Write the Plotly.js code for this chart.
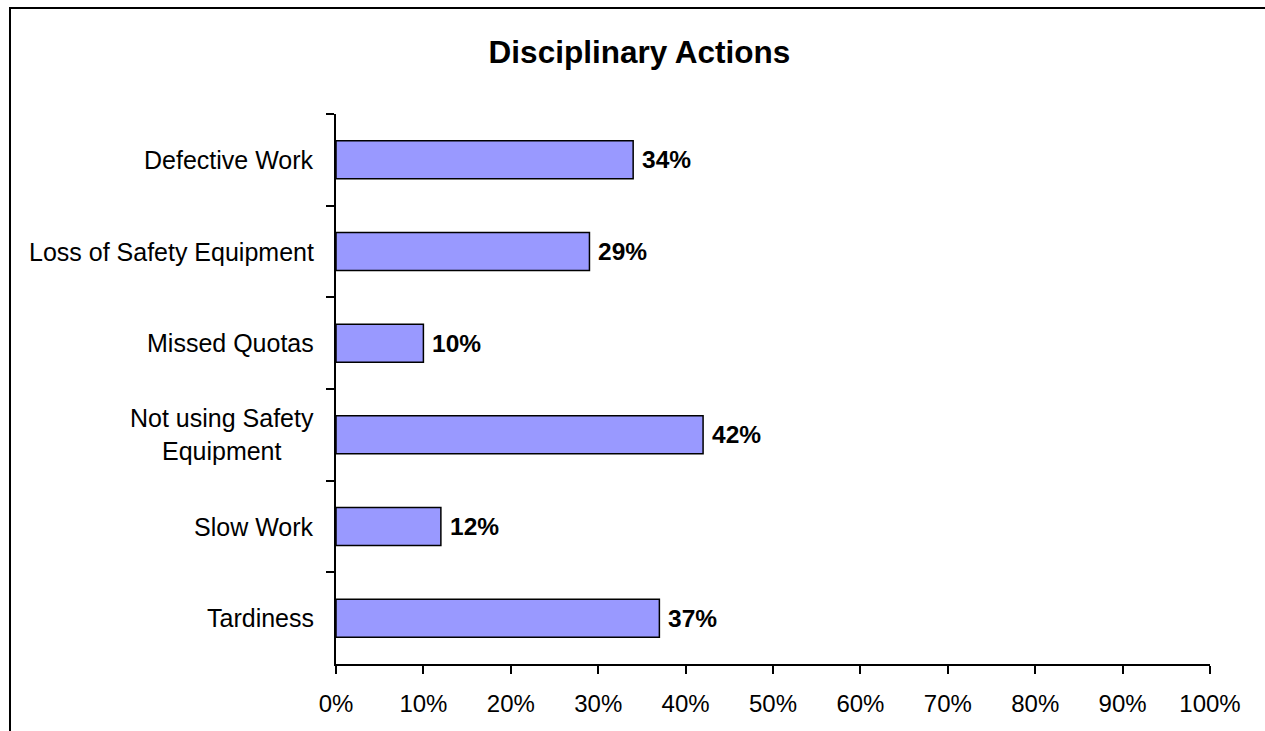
<!DOCTYPE html>
<html>
<head>
<meta charset="utf-8">
<script src="https://cdn.plot.ly/plotly-3.0.1.min.js"></script>
<style>html,body{margin:0;padding:0;background:#fff;}#chart{width:1265px;height:731px;}</style>
</head>
<body>
<div id="chart"></div>
<script>
const categories = ["Defective Work", "Loss of Safety Equipment", "Missed Quotas", "Not using Safety Equipment", "Slow Work", "Tardiness"];
const categoryLabels = ["Defective Work", "Loss of Safety Equipment", "Missed Quotas", "Not using Safety<br>Equipment", "Slow Work", "Tardiness"];
const percentValues = [34, 29, 10, 42, 12, 37];
const valueLabels = ["34%", "29%", "10%", "42%", "12%", "37%"];
const xTickValues = [0, 0.1, 0.2, 0.3, 0.4, 0.5, 0.6, 0.7, 0.8, 0.9, 1.0];

const fontFamily = "Liberation Sans, Arial, sans-serif";
const fractions = percentValues.map(v => v / 100);

const trace = {
  type: "bar",
  orientation: "h",
  x: fractions,
  y: categories,
  marker: {color: "#9999FF", line: {color: "#000000", width: 1.5}},
  hoverinfo: "none"
};

const annotations = [];
categories.forEach((c, i) => {
  annotations.push({
    x: 0, xref: "paper", y: c, yref: "y",
    text: categoryLabels[i], showarrow: false,
    xanchor: "right", yanchor: "middle", align: "center", xshift: -20,
    font: {family: fontFamily, size: 25, color: "#000"}
  });
  annotations.push({
    x: fractions[i], xref: "x", y: c, yref: "y",
    text: "<b>" + valueLabels[i] + "</b>", showarrow: false,
    xanchor: "left", yanchor: "middle", xshift: 7,
    font: {family: fontFamily, size: 24.5, color: "#000"}
  });
});

const layout = {
  width: 1265, height: 731,
  margin: {l: 336, r: 55, t: 114, b: 67},
  paper_bgcolor: "#ffffff", plot_bgcolor: "#ffffff",
  showlegend: false,
  bargap: 0.585,
  title: {
    text: "<b>Disciplinary Actions</b>",
    font: {family: fontFamily, size: 31.5, color: "#000"},
    x: 0.5055, xref: "container", xanchor: "center",
    y: 0.929, yref: "container", yanchor: "middle"
  },
  xaxis: {
    range: [0, 1], tickvals: xTickValues, tickformat: ".0%",
    showgrid: false, zeroline: false,
    showline: true, linecolor: "#000", linewidth: 2,
    ticks: "outside", ticklen: 8, tickwidth: 2, tickcolor: "#000",
    ticklabelstandoff: 9,
    tickfont: {family: fontFamily, size: 24, color: "#000"},
    fixedrange: true
  },
  yaxis: {
    type: "category", categoryorder: "array", categoryarray: categories,
    autorange: "reversed",
    showgrid: false, zeroline: false,
    showline: true, linecolor: "#000", linewidth: 2,
    ticks: "outside", tickson: "boundaries", ticklen: 8, tickwidth: 2, tickcolor: "#000",
    showticklabels: false,
    fixedrange: true
  },
  annotations: annotations,
  shapes: [{
    type: "path", xref: "paper", yref: "paper",
    path: "M -0.373 -0.2 L -0.373 1.1927 L 1.1 1.1927",
    line: {color: "#000", width: 2}
  }]
};

Plotly.newPlot("chart", [trace], layout, {displayModeBar: false, staticPlot: true});
</script>
</body>
</html>
